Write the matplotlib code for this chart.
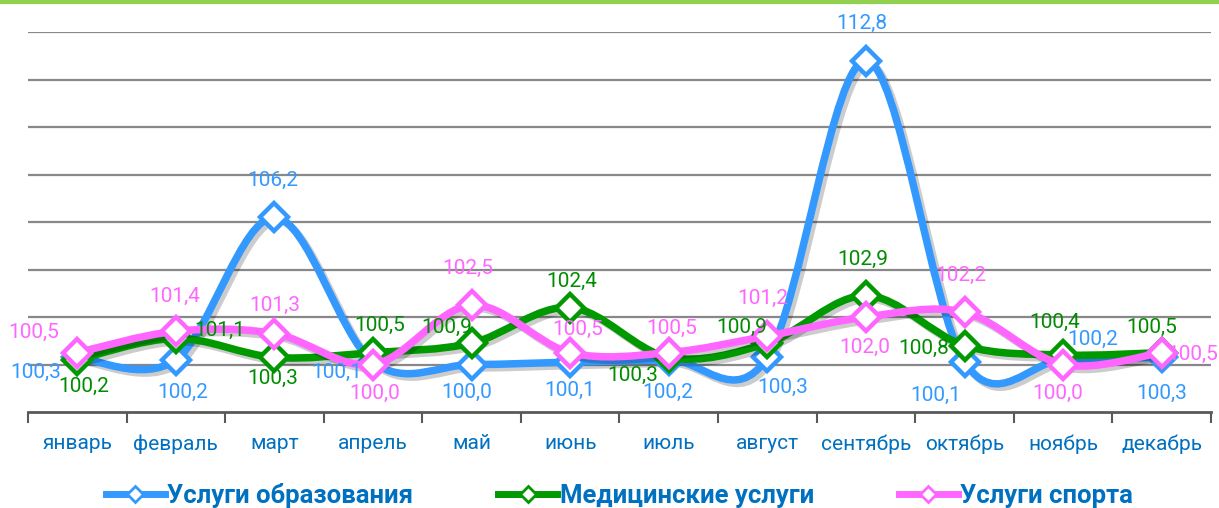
import numpy as np
import matplotlib
matplotlib.use("Agg")
import matplotlib.pyplot as plt
import matplotlib.patheffects as pe
from matplotlib.path import Path
from matplotlib.patches import PathPatch
from matplotlib.lines import Line2D

plt.rcParams['font.family'] = ['Roboto', 'DejaVu Sans']

months = ['январь', 'февраль', 'март', 'апрель', 'май', 'июнь',
          'июль', 'август', 'сентябрь', 'октябрь', 'ноябрь', 'декабрь']

names = ['Услуги образования', 'Медицинские услуги', 'Услуги спорта']

educ = [100.3, 100.2, 106.2, 100.1, 100.0, 100.1, 100.2, 100.3, 112.8, 100.1, 100.2, 100.3]
med = [100.2, 101.1, 100.3, 100.5, 100.9, 102.4, 100.3, 100.9, 102.9, 100.8, 100.4, 100.5]
sport = [100.5, 101.4, 101.3, 100.0, 102.5, 100.5, 100.5, 101.2, 102.0, 102.2, 100.0, 100.5]

colors = ['#3399FF', '#009900', '#FF66FF']
label_colors = ['#3399FF', '#008C00', '#FF66FF']

# label offsets (pixels) for each point
off_educ = [(-42, -15), (7, -33), (-2, 37), (-36, -10), (-5, -28), (0, -28),
            (-1, -33), (15, -30), (-4, 37), (-29, -33), (30, 20), (0, -36)]
off_med = [(6, -27), (44, 8), (-2, -21), (7, 27), (-25, 16), (2, 26),
           (-36, -18), (-26, 16), (-3, 36), (-41, -3), (-8, 33), (-10, 25)]
off_sport = [(-44, 20), (-1, 35), (0, 28), (2, -29), (-4, 37), (8, 23),
             (3, 24), (-5, 38), (-1, -30), (-4, 37), (-5, -29), (31, -2)]


def smooth_path(x, y):
    # cubic bezier through the points (catmull-rom style tangents)
    p = np.column_stack([x, y]).astype(float)
    n = len(p)
    verts = [p[0]]
    codes = [Path.MOVETO]
    for i in range(n - 1):
        pm = p[max(i - 1, 0)]
        pn = p[min(i + 2, n - 1)]
        c1 = p[i] + (p[i + 1] - pm) / 6.0
        c2 = p[i + 1] - (pn - p[i]) / 6.0
        verts += [c1, c2, p[i + 1]]
        codes += [Path.CURVE4] * 3
    return Path(verts, codes)


fig = plt.figure(figsize=(12.19, 5.08), dpi=100)
ax = fig.add_axes([28 / 1219, 96 / 508, 1183 / 1219, 380 / 508])

x = np.arange(len(months))

series = [educ, med, sport]
offsets = [off_educ, off_med, off_sport]
for k, (vals, offs) in enumerate(zip(series, offsets)):
    patch = PathPatch(smooth_path(x, vals), facecolor='none', edgecolor=colors[k],
                      lw=5.4, capstyle='round', joinstyle='round', zorder=3 + k,
                      path_effects=[pe.SimpleLineShadow(offset=(2.5, -2.5), shadow_color='black', alpha=0.2),
                                    pe.Normal()])
    ax.add_patch(patch)
    ax.plot(x, vals, ls='none', marker='D', ms=14.5, mfc='white', mec=colors[k],
            mew=3.2, zorder=3 + k)
    for xi, v, (dx, dy) in zip(x, vals, offs):
        ax.annotate(f'{v:.1f}'.replace('.', ','), (xi, v), xytext=(dx, dy),
                    textcoords='offset pixels', ha='center', va='center',
                    fontsize=15, color=label_colors[k], zorder=10)

ax.set_xlim(-0.5, 11.5)
ax.set_ylim(98, 114)
ax.set_yticks(np.arange(100, 115, 2))
ax.yaxis.grid(True, color='#888888', lw=1.6)
ax.set_axisbelow(True)
ax.tick_params(axis='y', left=False, labelleft=False)

ax.set_xticks(x)
ax.set_xticklabels(months, fontsize=15, color='#0070C0')
ax.set_xticks(np.arange(-0.5, 12, 1), minor=True)
ax.tick_params(axis='x', which='major', length=0, pad=16)
ax.tick_params(axis='x', which='minor', length=8, width=1.5, color='#595959')

for s in ['top', 'right', 'left']:
    ax.spines[s].set_visible(False)
ax.spines['bottom'].set_color('#595959')
ax.spines['bottom'].set_linewidth(2)

handles = [Line2D([], [], color=c, lw=5, marker='D', ms=8, mfc='white', mec=c, mew=2)
           for c in colors]
leg = fig.legend(handles, names, loc='center', bbox_to_anchor=(0.5 + 10 / 1219, 13 / 508), ncol=3,
                 frameon=False, handlelength=2.3, handletextpad=0.1, columnspacing=3.3,
                 prop={'size': 18.5, 'weight': 'bold'})
for t in leg.get_texts():
    t.set_color('#0070C0')

# green band along the top edge
fig.add_artist(Line2D([0, 1], [0.996, 0.996], transform=fig.transFigure,
                      color='#92D050', lw=3))

fig.savefig('out.png', dpi=100)
